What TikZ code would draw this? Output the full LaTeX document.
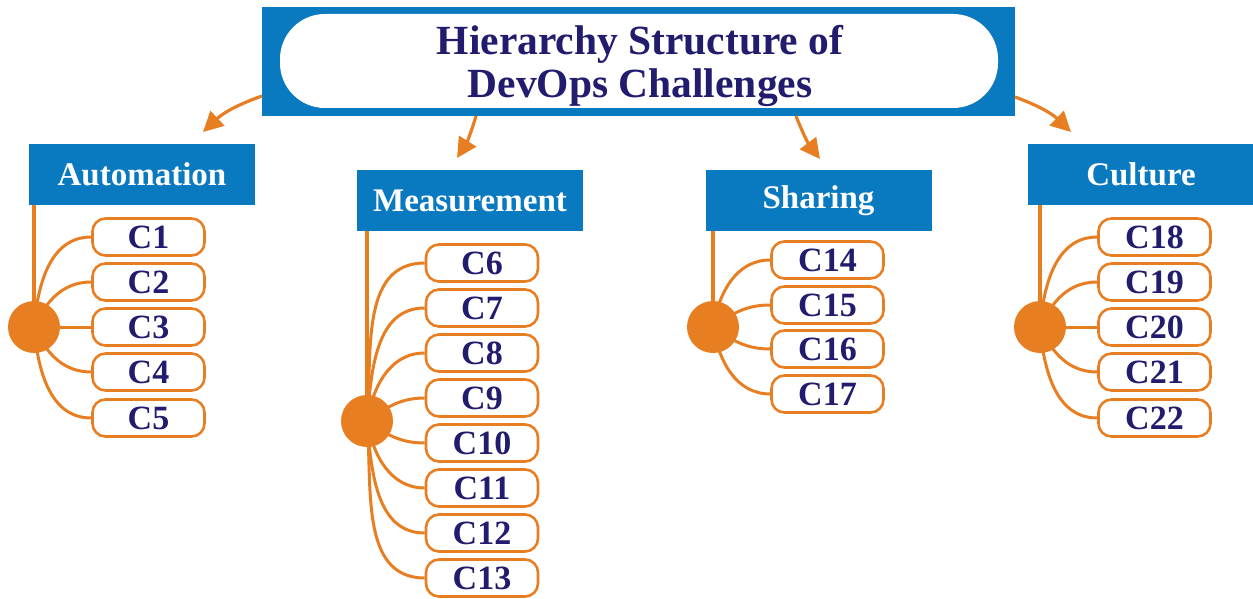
\documentclass[tikz,border=0pt]{standalone}
\usepackage{fontspec}
\setmainfont{Liberation Serif}
\usetikzlibrary{arrows.meta,backgrounds}
\definecolor{dblue}{RGB}{10,122,192}
\definecolor{orng}{RGB}{232,126,34}
\definecolor{navy}{RGB}{34,28,110}
\begin{document}
\begin{tikzpicture}[x=1pt,y=-1pt,
 catbox/.style={fill=dblue, text=white, font=\fontsize{33}{36}\selectfont\bfseries, minimum width=226pt, minimum height=61pt, inner sep=0pt},
 cbox/.style={draw=orng, line width=2.6pt, rounded corners=13pt, fill=white, text=navy, font=\fontsize{34}{36}\selectfont\bfseries, minimum width=112pt, minimum height=37pt, inner sep=0pt},
 hub/.style={circle, fill=orng, minimum size=52pt, inner sep=0pt},
 stem/.style={orng, line width=3.2pt},
 fan/.style={orng, line width=3pt},
 arr/.style={orng, line width=3.2pt, -{Triangle[length=20pt,width=20pt]}}
]
\useasboundingbox (0,0) rectangle (1253,599);
% title
\node[fill=dblue, minimum width=753pt, minimum height=109pt, inner sep=0pt] (topbox) at (638.5,61.5) {};
\node[fill=white, rounded corners=45pt, minimum width=718pt, minimum height=94pt, inner sep=0pt] (inner) at (639,61) {};
\node[align=center, text=navy, font=\fontsize{41.5}{43}\selectfont\bfseries, inner sep=0pt] (title) at (640,66) {Hierarchy Structure of\\DevOps Challenges};
% categories
\node[catbox] (auto) at (142,174.5) {Automation};
\node[catbox] (meas) at (470,200.5) {Measurement};
\node[catbox] (shar) at (818.5,200.5) {Sharing};
\node[catbox] (cult) at (1141,174.5) {Culture};
% hubs
\node[hub] (hA) at (34,327) {};
\node[hub] (hM) at (367,421) {};
\node[hub] (hS) at (713,327) {};
\node[hub] (hC) at (1040,327) {};
% C boxes
\foreach \n/\y in {1/237,2/282,3/327,4/372,5/418}
  \node[cbox] (c\n) at (148.5,\y) {C\n};
\foreach \n/\y in {6/263,7/308,8/353,9/398,10/443,11/488,12/533,13/578}
  \node[cbox] (c\n) at (482,\y) {C\n};
\foreach \n/\y in {14/260,15/305,16/349,17/394}
  \node[cbox] (c\n) at (827.5,\y) {C\n};
\foreach \n/\y in {18/237,19/282,20/327,21/372,22/418}
  \node[cbox] (c\n) at (1154.5,\y) {C\n};
% arrows
\coordinate (a1s) at (262,96);
\coordinate (a1e) at (203,132);
\coordinate (a2s) at (476,116);
\coordinate (a2e) at (457,158);
\coordinate (a3s) at (796,116);
\coordinate (a3e) at (820,159);
\coordinate (a4s) at (1015,97);
\coordinate (a4e) at (1071,132);
\draw[arr] (a1s) to[bend right=12] (a1e);
\draw[arr] (a2s) to[bend left=8] (a2e);
\draw[arr] (a3s) to[bend right=8] (a3e);
\draw[arr] (a4s) to[bend left=12] (a4e);
\begin{scope}[on background layer]
\draw[stem] (hA.center |- auto.south) -- (hA.center);
\draw[stem] (hM.center |- meas.south) -- (hM.center);
\draw[stem] (hS.center |- shar.south) -- (hS.center);
\draw[stem] (hC.center |- cult.south) -- (hC.center);
% automation
\draw[fan] (hA.center) to[out=85,in=180] (c1.west);
\draw[fan] (hA.center) to[out=65,in=180] (c2.west);
\draw[fan] (hA.center) -- (c3.west);
\draw[fan] (hA.center) to[out=-65,in=180] (c4.west);
\draw[fan] (hA.center) to[out=-85,in=180] (c5.west);
% measurement
\draw[fan] (hM.center) to[out=85,in=180] (c6.west);
\draw[fan] (hM.center) to[out=85,in=180] (c7.west);
\draw[fan] (hM.center) to[out=80,in=180] (c8.west);
\draw[fan] (hM.center) to[out=35,in=180] (c9.west);
\draw[fan] (hM.center) to[out=-35,in=180] (c10.west);
\draw[fan] (hM.center) to[out=-80,in=180] (c11.west);
\draw[fan] (hM.center) to[out=-85,in=180] (c12.west);
\draw[fan] (hM.center) to[out=-85,in=180] (c13.west);
% sharing
\draw[fan] (hS.center) to[out=80,in=180] (c14.west);
\draw[fan] (hS.center) to[out=35,in=180] (c15.west);
\draw[fan] (hS.center) to[out=-35,in=180] (c16.west);
\draw[fan] (hS.center) to[out=-80,in=180] (c17.west);
% culture
\draw[fan] (hC.center) to[out=85,in=180] (c18.west);
\draw[fan] (hC.center) to[out=65,in=180] (c19.west);
\draw[fan] (hC.center) -- (c20.west);
\draw[fan] (hC.center) to[out=-65,in=180] (c21.west);
\draw[fan] (hC.center) to[out=-85,in=180] (c22.west);
\end{scope}
\end{tikzpicture}
\end{document}
